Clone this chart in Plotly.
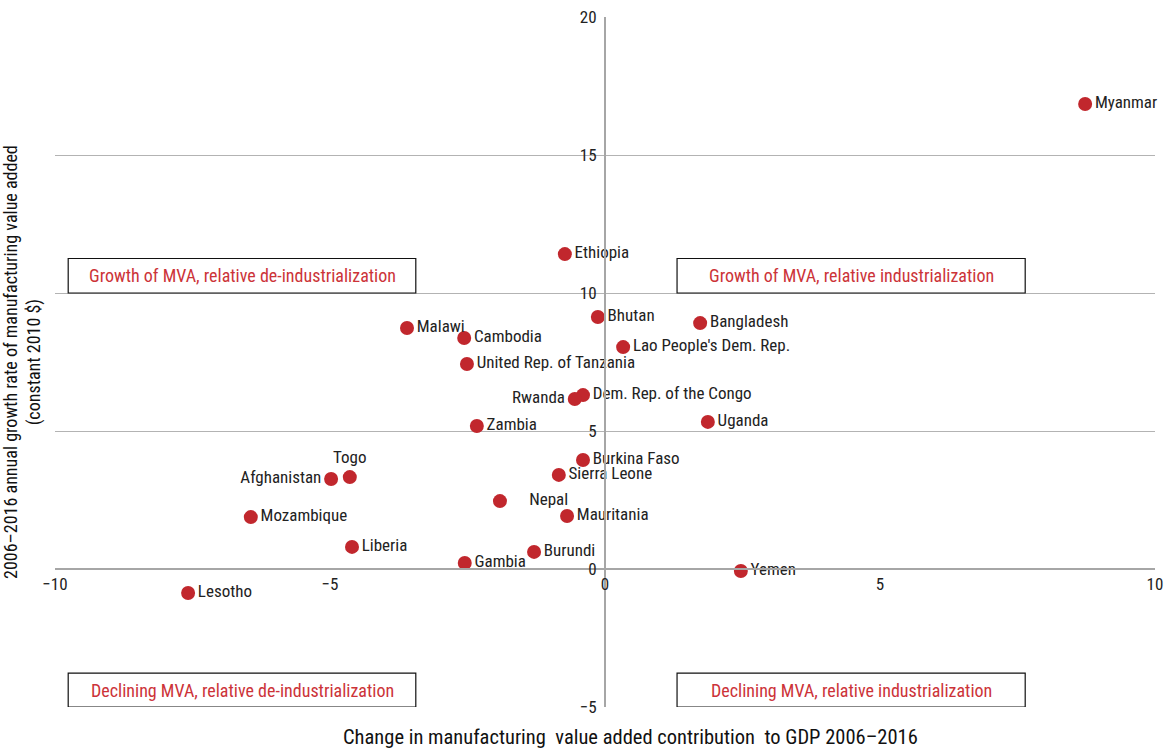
import plotly.graph_objects as go

countries = ["Myanmar", "Ethiopia", "Bhutan", "Bangladesh", "Lao People's Dem. Rep.",
             "Malawi", "Cambodia", "United Rep. of Tanzania", "Dem. Rep. of the Congo",
             "Rwanda", "Uganda", "Zambia", "Burkina Faso", "Sierra Leone", "Togo",
             "Afghanistan", "Nepal", "Mauritania", "Mozambique", "Liberia", "Burundi",
             "Gambia", "Yemen", "Lesotho"]
mva_share_change = [8.73, -0.73, -0.13, 1.73, 0.33, -3.60, -2.56, -2.51, -0.40, -0.55,
                    1.87, -2.33, -0.40, -0.84, -4.64, -4.98, -1.91, -0.69, -6.44, -4.60,
                    -1.29, -2.55, 2.47, -7.58]
mva_growth = [16.85, 11.41, 9.13, 8.91, 8.04, 8.73, 8.37, 7.43, 6.30, 6.16, 5.33, 5.18,
              3.95, 3.41, 3.33, 3.26, 2.46, 1.92, 1.88, 0.80, 0.62, 0.22, -0.07, -0.87]
label_pos = ["middle right"] * len(countries)
label_pos[countries.index("Rwanda")] = "middle left"
label_pos[countries.index("Afghanistan")] = "middle left"
label_pos[countries.index("Togo")] = "top center"
labels = [("     " + c if c == "Nepal" else c) if p.endswith("right") else c
          for c, p in zip(countries, label_pos)]

x_ticks = [-10, -5, 0, 5, 10]
y_ticks = [-5, 0, 5, 10, 15, 20]

quadrants = [
    ("Growth of MVA, relative de-industrialization", -9.76, -3.44, 10.0, 11.25),
    ("Growth of MVA, relative industrialization", 1.31, 7.64, 10.0, 11.25),
    ("Declining MVA, relative de-industrialization", -9.76, -3.44, -5.0, -3.77),
    ("Declining MVA, relative industrialization", 1.31, 7.64, -5.0, -3.77),
]

FONT = "Liberation Sans Narrow, Roboto Condensed, Arial Narrow, Roboto, sans-serif"
RED = "#c1272d"

fig = go.Figure()
fig.add_trace(go.Scatter(
    x=mva_share_change, y=mva_growth, mode="markers+text",
    text=labels, textposition=label_pos,
    textfont=dict(family=FONT, size=17, color="#222222"),
    marker=dict(color=RED, size=14),
    cliponaxis=False, showlegend=False, hoverinfo="skip",
))

for txt, x0, x1, y0, y1 in quadrants:
    fig.add_shape(type="rect", x0=x0, x1=x1, y0=y0, y1=y1, xref="x", yref="y",
                  line=dict(color="#111111", width=1.2), fillcolor="white", layer="above")
    fig.add_annotation(x=(x0 + x1) / 2, y=(y0 + y1) / 2, xref="x", yref="y", text=txt,
                       showarrow=False, font=dict(family=FONT, size=18, color="#cc3338"))

fig.add_annotation(x=0.523, y=-0.0435, xref="paper", yref="paper", showarrow=False,
                   xanchor="center", yanchor="middle",
                   text="Change in manufacturing  value added contribution  to GDP 2006\u20132016",
                   font=dict(family=FONT, size=20.5, color="#111111"))
fig.add_annotation(x=-0.03, y=0.5, xref="paper", yref="paper", showarrow=False, textangle=-90,
                   xanchor="center", yanchor="middle",
                   text="2006\u20132016 annual growth rate of manufacturing value added<br>(constant 2010 $)",
                   font=dict(family=FONT, size=18, color="#111111"))

fig.update_layout(
    width=1170, height=749, paper_bgcolor="white", plot_bgcolor="white",
    margin=dict(l=55, r=15, t=17, b=42, autoexpand=False),
    font=dict(family=FONT, size=17, color="#222222"),
    xaxis=dict(range=[-10, 10], tickvals=x_ticks, showgrid=False, zeroline=False,
               showline=True, linecolor="#a6a6a6", linewidth=2, automargin=False,
               anchor="free", position=0.2, ticks="", ticklabelstandoff=0,
               tickfont=dict(family=FONT, size=17, color="#222222")),
    yaxis=dict(range=[-5, 20], tickvals=y_ticks, showgrid=True, gridcolor="#b3b3b3",
               gridwidth=1.2, zeroline=False, showline=True, linecolor="#a6a6a6",
               linewidth=2, anchor="free", position=0.5, ticks="", automargin=False,
               ticklabelstandoff=4,
               tickfont=dict(family=FONT, size=17, color="#222222")),
)

fig.write_html("out.html", config={"displayModeBar": False},
               post_script="document.body.style.margin='0';")
